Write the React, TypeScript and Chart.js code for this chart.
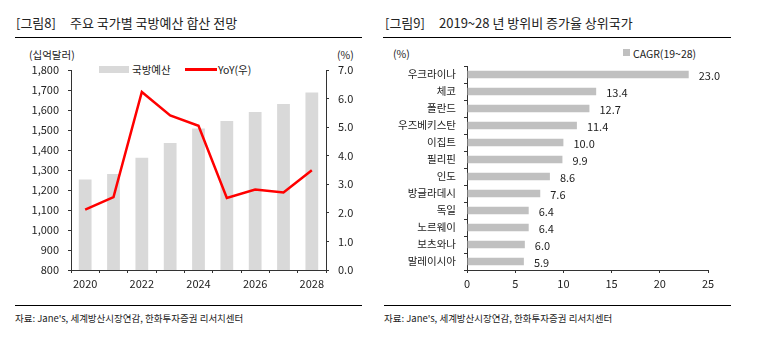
import React, { useEffect, useRef } from 'react';
import { Chart, registerables } from 'chart.js';

Chart.register(...registerables);

// ---- Data ----
const years = ['2020', '2021', '2022', '2023', '2024', '2025', '2026', '2027', '2028'];
const budget = [1252, 1280, 1361, 1435, 1508, 1545, 1590, 1630, 1687];
const yoy = [2.11, 2.55, 6.23, 5.41, 5.05, 2.52, 2.82, 2.71, 3.49];

const countries = ['우크라이나', '체코', '폴란드', '우즈베키스탄', '이집트', '필리핀', '인도', '방글라데시', '독일', '노르웨이', '보츠와나', '말레이시아'];
const cagr = [23.0, 13.4, 12.7, 11.4, 10.0, 9.9, 8.6, 7.6, 6.4, 6.4, 6.0, 5.9];

const leftTicks = [800, 900, 1000, 1100, 1200, 1300, 1400, 1500, 1600, 1700, 1800];

const FONT = "'Noto Sans CJK KR', 'Noto Sans', sans-serif";
const TXT = '#222';

type TxtProps = { x: number; cy: number; size: number; children: React.ReactNode; color?: string; ls?: number };
function Txt({ x, cy, size, children, color = TXT, ls = 0 }: TxtProps) {
  const lh = Math.round(size * 1.4);
  return (
    <div
      style={{
        position: 'absolute',
        left: x,
        top: cy - lh / 2,
        lineHeight: lh + 'px',
        fontSize: size,
        fontFamily: FONT,
        color,
        whiteSpace: 'nowrap',
        letterSpacing: ls,
      }}
    >
      {children}
    </div>
  );
}

function Rule({ x, y, w, h = 1, color = '#000' }: { x: number; y: number; w: number; h?: number; color?: string }) {
  return <div style={{ position: 'absolute', left: x, top: y, width: w, height: h, background: color }} />;
}

function LeftChart() {
  const ref = useRef<HTMLCanvasElement>(null);
  useEffect(() => {
    const ctx = ref.current!;
    const tickFont = { family: FONT, size: 11 };
    const chart = new Chart(ctx, {
      type: 'bar',
      data: {
        labels: years,
        datasets: [
          {
            type: 'line',
            label: 'YoY(우)',
            data: yoy,
            yAxisID: 'y1',
            borderColor: '#ff0000',
            backgroundColor: '#ff0000',
            borderWidth: 2.5,
            pointRadius: 0,
            tension: 0,
            order: 0,
          } as any,
          {
            type: 'bar',
            label: '국방예산',
            data: budget,
            yAxisID: 'y',
            backgroundColor: '#d9d9d9',
            categoryPercentage: 1,
            barPercentage: 0.45,
            order: 1,
          },
        ],
      },
      options: {
        responsive: false,
        animation: false,
        layout: { padding: { top: 70, left: 0, right: 0, bottom: 0 } },
        plugins: { legend: { display: false }, tooltip: { enabled: false } },
        scales: {
          x: {
            offset: true,
            grid: { offset: true, drawOnChartArea: false, tickLength: 3, color: '#333' },
            border: { display: true, color: '#333' },
            ticks: {
              autoSkip: false,
              maxRotation: 0,
              padding: 4,
              color: TXT,
              font: tickFont,
              callback: (_v: any, i: number) => (i % 2 === 0 ? years[i] : ''),
            },
            afterFit: (s: any) => {
              s.height = 30;
            },
          },
          y: {
            position: 'left',
            min: 800,
            max: 1800,
            afterBuildTicks: (s: any) => {
              s.ticks = leftTicks.map((v) => ({ value: v }));
            },
            grid: { drawOnChartArea: false, tickLength: 3, color: '#333' },
            border: { display: true, color: '#333' },
            ticks: {
              padding: 9,
              color: TXT,
              font: tickFont,
              callback: (v: any) => Number(v).toLocaleString('en-US'),
            },
            afterFit: (s: any) => {
              s.width = 71;
            },
          },
          y1: {
            position: 'right',
            min: 0,
            max: 7,
            grid: { drawOnChartArea: false, tickLength: 3, color: '#333' },
            border: { display: true, color: '#333' },
            ticks: {
              stepSize: 1,
              padding: 9,
              color: TXT,
              font: tickFont,
              callback: (v: any) => Number(v).toFixed(1),
            },
            afterFit: (s: any) => {
              s.width = 54;
            },
          },
        },
      },
    });
    return () => chart.destroy();
  }, []);
  return <canvas ref={ref} width={380} height={300} style={{ position: 'absolute', left: 0, top: 0, width: 380, height: 300 }} />;
}

const valueLabels = {
  id: 'valueLabels',
  afterDatasetsDraw(chart: any) {
    const { ctx } = chart;
    const meta = chart.getDatasetMeta(0);
    const data = chart.data.datasets[0].data as number[];
    ctx.save();
    ctx.font = `11px ${FONT}`;
    ctx.fillStyle = TXT;
    ctx.textAlign = 'left';
    ctx.textBaseline = 'middle';
    meta.data.forEach((el: any, i: number) => {
      ctx.fillText(data[i].toFixed(1), el.x + 10, el.y + 1);
    });
    ctx.restore();
  },
};

function RightChart() {
  const ref = useRef<HTMLCanvasElement>(null);
  useEffect(() => {
    const ctx = ref.current!;
    const tickFont = { family: FONT, size: 11 };
    const chart = new Chart(ctx, {
      type: 'bar',
      data: {
        labels: countries,
        datasets: [
          {
            label: 'CAGR(19~28)',
            data: cagr,
            backgroundColor: '#c0c0c0',
            categoryPercentage: 1,
            barPercentage: 0.45,
          },
        ],
      },
      plugins: [valueLabels],
      options: {
        indexAxis: 'y',
        responsive: false,
        animation: false,
        layout: { padding: { top: 66, left: 0, right: 75, bottom: 0 } },
        plugins: { legend: { display: false }, tooltip: { enabled: false } },
        scales: {
          x: {
            min: 0,
            max: 25,
            grid: { drawOnChartArea: false, tickLength: 3, color: '#333' },
            border: { display: true, color: '#333' },
            ticks: { stepSize: 5, padding: 4, color: TXT, font: tickFont },
            afterFit: (s: any) => {
              s.height = 30;
            },
          },
          y: {
            offset: true,
            grid: { offset: true, drawOnChartArea: false, tickLength: 3, color: '#333' },
            border: { display: true, color: '#333' },
            ticks: { autoSkip: false, padding: 8, color: TXT, font: { family: FONT, size: 10.5 } },
            afterFit: (s: any) => {
              s.width = 87;
            },
          },
        },
      },
    });
    return () => chart.destroy();
  }, []);
  return <canvas ref={ref} width={403} height={300} style={{ position: 'absolute', left: 380, top: 0, width: 403, height: 300 }} />;
}

export default function App() {
  return (
    <div style={{ position: 'absolute', left: 0, top: 0, width: 783, height: 339, background: '#fff', overflow: 'hidden' }}>
      {/* Left panel */}
      <Txt x={16} cy={23} size={13}>[그림8]</Txt>
      <Txt x={70} cy={23} size={13}>주요 국가별 국방예산 합산 전망</Txt>
      <Rule x={15} y={37} w={347} />
      <Txt x={29} cy={54} size={10.5}>(십억달러)</Txt>
      <Txt x={337} cy={54} size={10.5}>(%)</Txt>
      <Rule x={99} y={66} w={30} h={7} color="#d9d9d9" />
      <Txt x={132} cy={69} size={10.5}>국방예산</Txt>
      <Rule x={185} y={68} w={32} h={2.5} color="#ff0000" />
      <Txt x={218} cy={69} size={10.5}>YoY(우)</Txt>
      <LeftChart />
      <Rule x={15} y={305} w={347} />
      <Txt x={15} cy={318} size={9.5}>자료: Jane's, 세계방산시장연감, 한화투자증권 리서치센터</Txt>

      {/* Right panel */}
      <Txt x={385} cy={23} size={13}>[그림9]</Txt>
      <Txt x={439} cy={23} size={13}>2019~28 년 방위비 증가율 상위국가</Txt>
      <Rule x={383} y={37} w={348} />
      <Txt x={393} cy={53} size={10.5}>(%)</Txt>
      <Rule x={623} y={49} w={7} h={7} color="#c0c0c0" />
      <Txt x={633} cy={53} size={10.5}>CAGR(19~28)</Txt>
      <RightChart />
      <Rule x={384} y={305} w={347} />
      <Txt x={384} cy={318} size={9.5}>자료: Jane's, 세계방산시장연감, 한화투자증권 리서치센터</Txt>
    </div>
  );
}
